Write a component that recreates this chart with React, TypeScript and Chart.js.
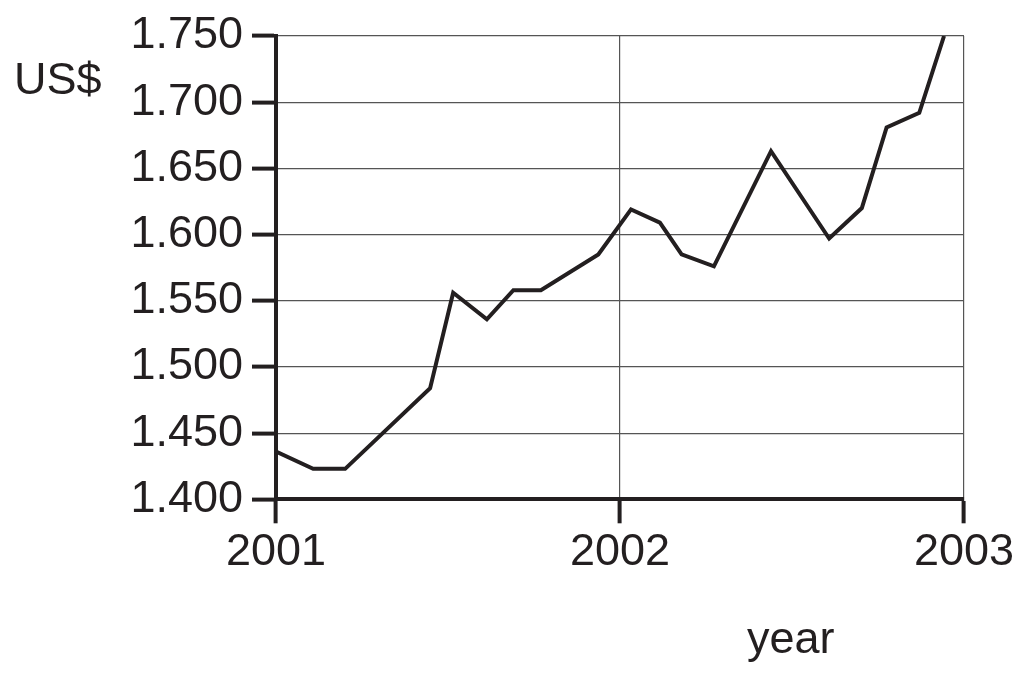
import React, { useEffect, useRef } from "react";
import { Chart, registerables } from "chart.js";

Chart.register(...registerables);

// time in fractional years, exchange rate in US$
const years = [2001.0, 2001.108, 2001.201, 2001.448, 2001.515, 2001.613, 2001.69, 2001.77, 2001.937, 2002.032, 2002.116, 2002.179, 2002.273, 2002.439, 2002.608, 2002.703, 2002.775, 2002.87, 2002.942];
const rates = [1.436, 1.423, 1.423, 1.484, 1.556, 1.536, 1.558, 1.558, 1.585, 1.619, 1.609, 1.585, 1.576, 1.663, 1.597, 1.62, 1.681, 1.692, 1.75];
const yTicks = [1.4, 1.45, 1.5, 1.55, 1.6, 1.65, 1.7, 1.75];
const xTicks = [2001, 2002, 2003];
const yTitle = "US$";
const xTitle = "year";

const INK = "#231f20";
const FONT = "'Liberation Sans', Arial, Helvetica, sans-serif";

export default function App() {
  const ref = useRef<HTMLCanvasElement | null>(null);
  useEffect(() => {
    if (!ref.current) return;
    const titles = {
      id: "titles",
      afterDraw(chart: any) {
        const ctx = chart.ctx;
        ctx.save();
        ctx.fillStyle = INK;
        ctx.font = `45px ${FONT}`;
        ctx.textAlign = "left";
        ctx.textBaseline = "alphabetic";
        ctx.fillText(yTitle, 14, 94);
        ctx.fillText(xTitle, 747, 653);
        ctx.restore();
      },
    };
    const chart = new Chart(ref.current, {
      type: "line",
      data: {
        datasets: [
          {
            data: years.map((x, i) => ({ x, y: rates[i] })),
            borderColor: INK,
            borderWidth: 4,
            pointRadius: 0,
            tension: 0,
            fill: false,
          },
        ],
      },
      options: {
        animation: false,
        responsive: true,
        maintainAspectRatio: false,
        layout: { padding: { left: 0, right: 65, top: 36, bottom: 0 } },
        plugins: { legend: { display: false }, tooltip: { enabled: false } },
        scales: {
          x: {
            type: "linear",
            min: 2001,
            max: 2003,
            afterBuildTicks: (s: any) => {
              s.ticks = xTicks.map((v) => ({ value: v }));
            },
            afterFit: (s: any) => {
              s.height = 181.7;
            },
            ticks: {
              color: INK,
              font: { family: FONT, size: 45 },
              padding: 2,
              maxRotation: 0,
              callback: (v: any) => String(v),
            },
            grid: {
              color: "#555555",
              lineWidth: 1.2,
              tickLength: 24,
              tickColor: INK,
              tickWidth: 4,
            },
            border: { color: INK, width: 4 },
          },
          y: {
            min: 1.4,
            max: 1.75,
            afterBuildTicks: (s: any) => {
              s.ticks = yTicks.map((v) => ({ value: v }));
            },
            afterFit: (s: any) => {
              s.width = 276;
            },
            ticks: {
              color: INK,
              font: { family: FONT, size: 45 },
              padding: 9,
              callback: (v: any) => Number(v).toFixed(3),
            },
            grid: {
              color: "#555555",
              lineWidth: 1.2,
              tickLength: 24,
              tickColor: INK,
              tickWidth: 4,
            },
            border: { color: INK, width: 4 },
          },
        },
      },
      plugins: [titles],
    });
    return () => chart.destroy();
  }, []);
  return (
    <div style={{ position: "fixed", left: 0, top: 0, width: 1029, height: 681, background: "#fff" }}>
      <canvas ref={ref} />
    </div>
  );
}
